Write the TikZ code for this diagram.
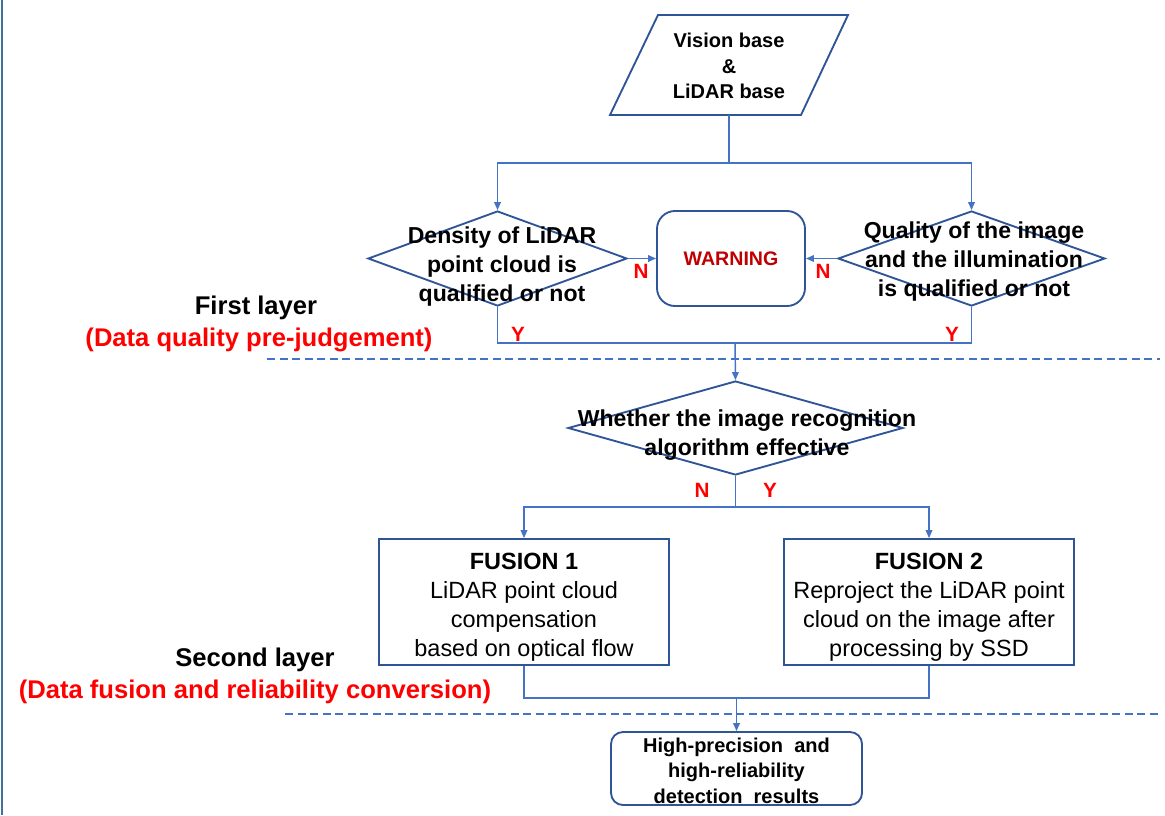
\documentclass[tikz,border=0pt]{standalone}
\usepackage{fontspec}
\setmainfont{Liberation Sans}
\usetikzlibrary{shapes.geometric,arrows.meta}

\definecolor{lineblue}{RGB}{68,114,196}
\definecolor{boxblue}{RGB}{47,85,151}
\definecolor{frameblue}{RGB}{65,113,156}
\definecolor{warnred}{RGB}{192,0,0}
\definecolor{labred}{RGB}{255,0,0}

\tikzset{every picture/.style={line width=0.75pt}}
\tikzset{
  flowline/.style={draw=lineblue, line width=1.1pt},
  flowarrow/.style={flowline, -{Triangle[length=6pt,width=5pt]}},
  layerline/.style={draw=lineblue, line width=1.4pt, dash pattern=on 6pt off 3.4pt},
  decision/.style={diamond, draw=boxblue, line width=1.4pt, inner sep=0pt},
  procbox/.style={rectangle, draw=boxblue, line width=1.4pt, inner sep=0pt},
  roundbox/.style={procbox, rounded corners=#1},
  qtext/.style={font=\bfseries\fontsize{17.3}{21.75}\selectfont, align=center, inner sep=0pt},
  ftext/.style={font=\fontsize{17.6}{21.75}\selectfont, align=center, inner sep=0pt},
  stext/.style={font=\bfseries\fontsize{15}{19.2}\selectfont, align=center, inner sep=0pt},
  yntext/.style={font=\bfseries\fontsize{15.5}{18}\selectfont, text=labred, inner sep=0pt},
  laytext/.style={font=\bfseries\fontsize{19.2}{23}\selectfont, inner sep=0pt},
}

\begin{document}
\begin{tikzpicture}[x=0.75pt,y=0.75pt,yscale=-1,xscale=1]
\useasboundingbox (0,0) rectangle (1165,815);

%Straight Lines (left frame)
\draw [color=frameblue, line width=1.5pt] (2,0) -- (2,815);

%Shape: Parallelogram
\draw [draw=boxblue, line width=1.4pt] (658,15) -- (848,15) -- (801,115) -- (610,115) -- cycle;
% Text Node
\node [stext] (src) at (729,66) {Vision base\\\&\\LiDAR base};
\coordinate (srcb) at (729,115);

%Shape: Diamond
\node [decision, minimum width=194.25pt, minimum height=71.25pt] (dq1) at (497.5,258.5) {};
%Shape: Diamond
\node [decision, minimum width=200.25pt, minimum height=71.25pt] (dq2) at (971.5,258.5) {};
%Rounded Rect
\node [roundbox=13.5pt, minimum width=111pt, minimum height=71.25pt] (warn) at (731,258.5) {};
%Shape: Diamond
\node [decision, minimum width=251.25pt, minimum height=70.5pt] (alg) at (735.5,428) {};
%Shape: Rectangle
\node [procbox, minimum width=217.5pt, minimum height=94.5pt] (fus1) at (524,602) {};
%Shape: Rectangle
\node [procbox, minimum width=217.5pt, minimum height=94.5pt] (fus2) at (929,602) {};
%Rounded Rect
\node [roundbox=9pt, minimum width=188.25pt, minimum height=54.75pt] (res) at (736.5,768.5) {};

% Text Node
\node [qtext] (dq1t) at (502,267) {Density of LiDAR\\point cloud is\\qualified or not};
% Text Node
\node [qtext] (dq2t) at (974,262) {Quality of the image\\and the illumination\\is qualified or not};
% Text Node
\node [font=\bfseries\fontsize{14.7}{17}\selectfont, text=warnred, inner sep=0pt] (warnt) at (731,259) {WARNING};
% Text Node
\node [qtext] (algt) at (747,435.5) {Whether the image recognition\\algorithm effective};
% Text Node
\node [ftext] (fus1t) at (524,607.5) {\textbf{FUSION 1}\\LiDAR point cloud\\compensation\\based on optical flow};
% Text Node
\node [ftext] (fus2t) at (929,607.5) {\textbf{FUSION 2}\\Reproject the LiDAR point\\cloud on the image after\\processing by SSD};
% Text Node
\node [stext, font=\bfseries\fontsize{15}{19.1}\selectfont] (rest) at (736.5,770.5) {High-precision~ and\\high-reliability\\detection~ results};

%Straight Lines
\coordinate (split1) at (729,163);
\draw [flowline] (srcb) -- (split1);
\draw [flowarrow] (split1) -| (dq1.north);
\draw [flowarrow] (split1) -| (dq2.north);
\draw [flowarrow] (dq1.east) -- (warn.west);
\draw [flowarrow] (dq2.west) -- (warn.east);

\coordinate (join1) at (735,343);
\draw [flowline] (dq1.south) |- (join1);
\draw [flowline] (dq2.south) |- (join1);
\draw [flowarrow] (join1) -- (alg.north);

\coordinate (split2) at (735.5,507);
\draw [flowline] (alg.south) -- (split2);
\draw [flowarrow] (split2) -| (fus1.north);
\draw [flowarrow] (split2) -| (fus2.north);

\coordinate (join2) at (736.5,698);
\draw [flowline] (fus1.south) |- (join2);
\draw [flowline] (fus2.south) |- (join2);
\draw [flowarrow] (join2) -- (res.north);

%Straight Lines (layer borders)
\draw [layerline] (267,359) -- (1160,359);
\draw [layerline] (285,714) -- (1160,714);

% Text Node
\node [yntext] (nlab1) at (641,271) {N};
% Text Node
\node [yntext] (nlab2) at (823,271) {N};
% Text Node
\node [yntext] (ylab1) at (518,334) {Y};
% Text Node
\node [yntext] (ylab2) at (952,334) {Y};
% Text Node
\node [yntext] (nlab3) at (702,490) {N};
% Text Node
\node [yntext] (ylab3) at (770,490) {Y};

% Text Node
\node [laytext] (lay1) at (256,308) {First layer};
% Text Node
\node [laytext, text=labred] (lay1s) at (259,340) {(Data quality pre-judgement)};
% Text Node
\node [laytext] (lay2) at (255,660) {Second layer};
% Text Node
\node [laytext, text=labred] (lay2s) at (255,692) {(Data fusion and reliability conversion)};
\end{tikzpicture}
\end{document}
